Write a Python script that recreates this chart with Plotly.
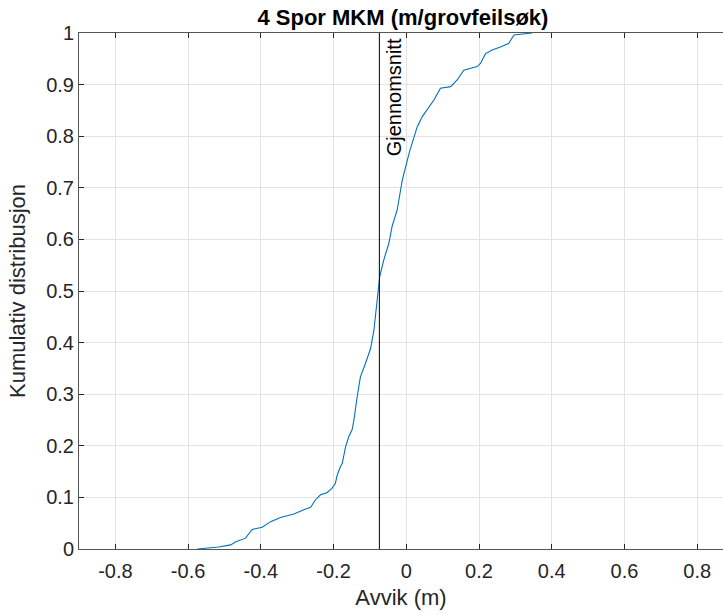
import plotly.graph_objects as go

avvik = [-0.575, -0.516, -0.483, -0.469, -0.442, -0.424, -0.396, -0.373, -0.346, -0.309,
         -0.282, -0.263, -0.25, -0.236, -0.218, -0.204, -0.195, -0.19, -0.181, -0.176,
         -0.167, -0.158, -0.149, -0.144, -0.135, -0.126, -0.112, -0.098, -0.089, -0.080,
         -0.073, -0.062, -0.048, -0.039, -0.025, -0.011, 0.002, 0.01, 0.016, 0.03,
         0.044, 0.057, 0.076, 0.094, 0.122, 0.14, 0.158, 0.195, 0.204, 0.218,
         0.236, 0.259, 0.282, 0.296, 0.346]
kumulativ = [0.0, 0.004, 0.008, 0.014, 0.021, 0.038, 0.042, 0.053, 0.061, 0.068,
             0.076, 0.081, 0.095, 0.105, 0.109, 0.118, 0.127, 0.143, 0.16, 0.166,
             0.198, 0.218, 0.231, 0.25, 0.295, 0.334, 0.36, 0.389, 0.424, 0.476,
             0.528, 0.56, 0.592, 0.625, 0.657, 0.715, 0.754, 0.773, 0.786, 0.818,
             0.838, 0.851, 0.87, 0.893, 0.896, 0.909, 0.928, 0.935, 0.941, 0.96,
             0.967, 0.973, 0.98, 0.996, 1.0]
gjennomsnitt = -0.074

x_ticks = [-0.8, -0.6, -0.4, -0.2, 0, 0.2, 0.4, 0.6, 0.8]
x_ticklabels = ["-0.8", "-0.6", "-0.4", "-0.2", "0", "0.2", "0.4", "0.6", "0.8"]
y_ticks = [0, 0.1, 0.2, 0.3, 0.4, 0.5, 0.6, 0.7, 0.8, 0.9, 1]
y_ticklabels = ["0", "0.1", "0.2", "0.3", "0.4", "0.5", "0.6", "0.7", "0.8", "0.9", "1"]

FONT = "Liberation Sans, Arial, sans-serif"
AX = "#262626"

fig = go.Figure()
fig.add_trace(go.Scatter(x=avvik, y=kumulativ, mode="lines",
                         line=dict(color="#0072BD", width=1.1), showlegend=False))
fig.add_trace(go.Scatter(x=[gjennomsnitt, gjennomsnitt], y=[0, 1], mode="lines",
                         line=dict(color="black", width=1), showlegend=False))

fig.add_annotation(x=gjennomsnitt, y=1, xref="x", yref="y", text="Gjennomsnitt",
                   textangle=-90, showarrow=False, xanchor="left", yanchor="top",
                   xshift=2, yshift=-3, font=dict(family=FONT, size=20, color="black"))

fig.update_layout(
    width=723, height=615,
    margin=dict(l=79, r=0, t=33, b=66),
    paper_bgcolor="white", plot_bgcolor="white",
    font=dict(family=FONT, size=20, color=AX),
    title=dict(text="<b>4 Spor MKM (m/grovfeilsøk)</b>", x=0.503, xref="paper",
               xanchor="center", y=1 - 17 / 615, yanchor="middle",
               font=dict(family=FONT, size=22, color="black")),
    xaxis=dict(range=[-0.9, 0.871], tickvals=x_ticks, ticktext=x_ticklabels,
               showgrid=True, gridcolor="#e3e3e3", gridwidth=1, zeroline=False,
               showline=True, linecolor="#555", linewidth=1, mirror="ticks",
               ticks="inside", ticklen=5, tickcolor=AX, ticklabelstandoff=4,
               title=dict(text="Avvik (m)", font=dict(size=22), standoff=8),
               tickfont=dict(size=20)),
    yaxis=dict(range=[0, 1], tickvals=y_ticks, ticktext=y_ticklabels,
               showgrid=True, gridcolor="#e3e3e3", gridwidth=1, zeroline=False,
               showline=True, linecolor="#555", linewidth=1, mirror=False,
               ticks="inside", ticklen=5, tickcolor=AX,
               title=dict(text="Kumulativ distribusjon", font=dict(size=22), standoff=14),
               tickfont=dict(size=20)),
)

fig.write_html("out.html")
